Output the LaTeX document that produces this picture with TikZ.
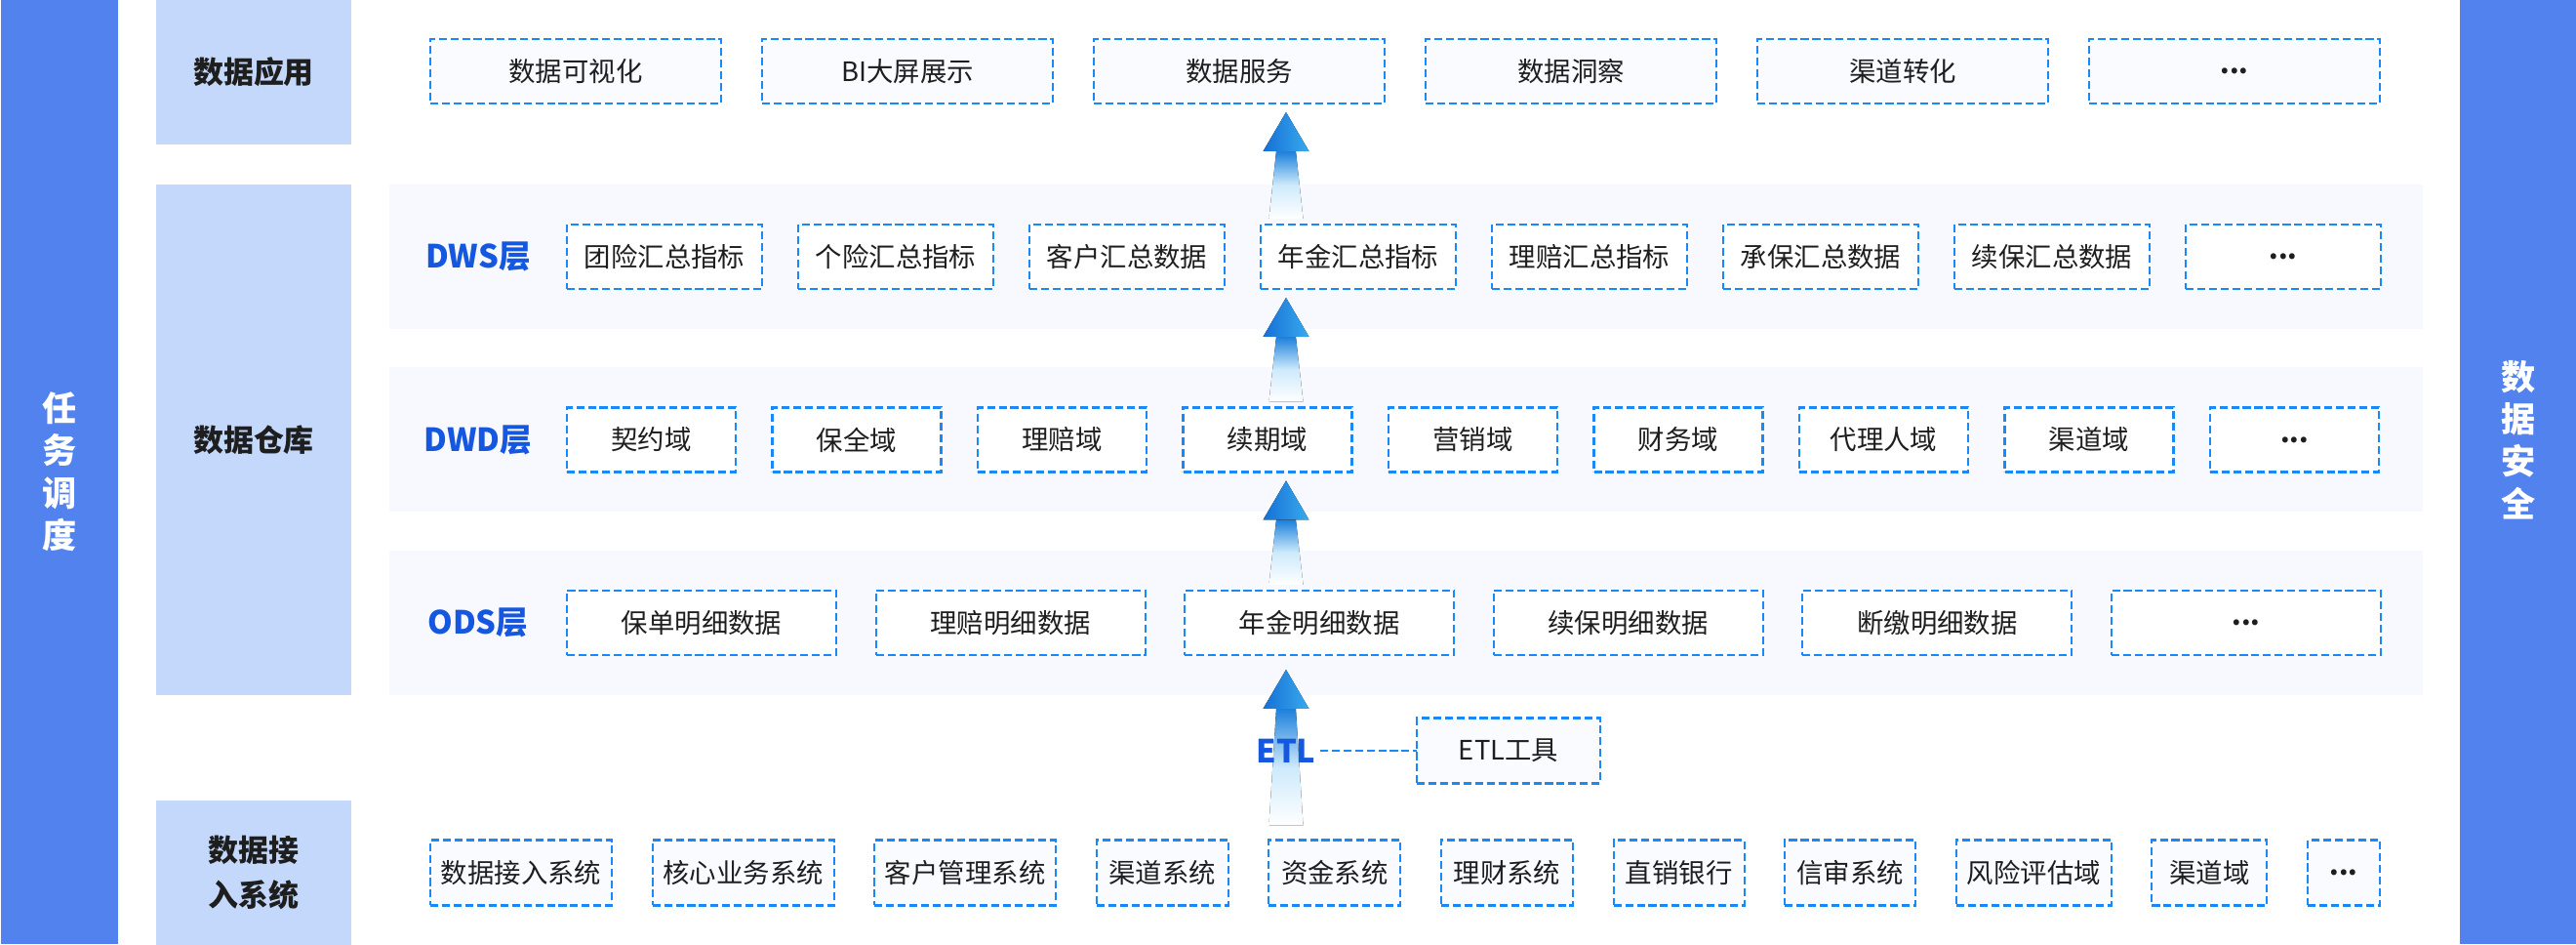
\documentclass[tikz,border=0pt]{standalone}
\usepackage{fontspec}
\setmainfont{Noto Sans CJK SC}
\usepackage{xcolor}
\usepackage{tikz}
\usetikzlibrary{positioning,calc}

\definecolor{sideblue}{HTML}{5282EE}
\definecolor{labelblue}{HTML}{C3D8FA}
\definecolor{bandgray}{HTML}{F7F9FE}
\definecolor{dashblue}{HTML}{1A88F5}
\definecolor{layerblue}{HTML}{1558DF}
\definecolor{boxfill}{HTML}{F9FBFF}
\definecolor{textgray}{HTML}{1E1E1E}
\definecolor{flowtop}{HTML}{1C80DC}
\definecolor{flowdark}{HTML}{1670D6}
\definecolor{flowlight}{HTML}{38AAEE}

% gradient up-arrow: #1 = tip, #2 = foot of the shaft
\newcommand{\flowup}[2]{%
  \fill[flowshaft] ($(#1)+(-0.10,-0.40)$) -- ($(#1)+(0.10,-0.40)$) -- ($(#2)+(0.175,0)$) -- ($(#2)+(-0.175,0)$) -- cycle;
  \fill[flowhead] (#1) -- ($(#1)+(0.235,-0.40)$) -- ($(#1)+(-0.235,-0.40)$) -- cycle;
}

\begin{document}
\begin{tikzpicture}[
                every node/.style={font=\fontsize{7.8}{9}\selectfont, text=textgray},
                side/.style={fill=sideblue, minimum width=1.2cm, minimum height=9.68cm, inner sep=0pt, anchor=south west},
                sidetext/.style={text=white, align=center, font=\bfseries\fontsize{10}{12.3}\selectfont},
                tier/.style={fill=labelblue, minimum width=2.0cm, inner sep=0pt, align=center, font=\bfseries\fontsize{8.8}{13.3}\selectfont},
                band/.style={fill=bandgray, minimum width=20.84cm, minimum height=1.48cm, inner sep=0pt},
                layertag/.style={text=layerblue, inner sep=1pt, font=\bfseries\fontsize{9.3}{11}\selectfont},
                item/.style={draw=dashblue, dash pattern=on 2.3pt off 1.1pt, line width=0.6pt, fill=boxfill, minimum height=0.66cm, inner sep=0pt, outer sep=0pt},
                more/.style={font=\bfseries\fontsize{7.8}{9}\selectfont},
                link/.style={draw=dashblue, dash pattern=on 2.3pt off 1.1pt, line width=0.6pt},
                flowshaft/.style={top color=flowtop, bottom color=white, middle color=flowlight!25!white},
                flowhead/.style={left color=flowdark, right color=flowlight}
            ]
                \useasboundingbox (0,0) rectangle (26.40,9.68);

                % side bars
                \node[side] (sched) at (0,0) {};
                \node[sidetext] at (sched.center) {任\\务\\调\\度};
                \node[side] (secbar) at (25.20,0) {};

                % tier labels on the left
                \node[tier, minimum height=1.48cm] (app) at (2.60,8.94) {数据应用};
                \node[tier, minimum height=5.23cm] (dw) at (2.60,5.175) {数据仓库};
                \node[tier, minimum height=1.48cm] (src) at (2.60,0.74) {数据接\\入系统};
                \node[sidetext] at (secbar |- dw.center) {数\\据\\安\\全};

                % warehouse bands
                \node[band] (dwsband) at (14.41,7.05) {};
                \node[band] (dwdband) at (14.41,5.175) {};
                \node[band] (odsband) at (14.41,3.30) {};
                \node[layertag] (dwsl) at (4.90,7.05) {DWS层};
                \node[layertag] (dwdl) at (4.90,5.175) {DWD层};
                \node[layertag] (odsl) at (4.90,3.30) {ODS层};

                % data applications
                \node[item, minimum width=2.98cm, anchor=west] (app1) at (4.41,8.95) {数据可视化};
                \node[item, minimum width=2.98cm, right=0.42cm of app1] (app2) {BI大屏展示};
                \node[item, minimum width=2.98cm, right=0.42cm of app2] (app3) {数据服务};
                \node[item, minimum width=2.98cm, right=0.42cm of app3] (app4) {数据洞察};
                \node[item, minimum width=2.98cm, right=0.42cm of app4] (app5) {渠道转化};
                \node[item, more, minimum width=2.98cm, right=0.42cm of app5] (app6) {...};

                % DWS
                \node[item, fill=white, minimum width=2.00cm, anchor=west] (dws1) at (5.81,7.05) {团险汇总指标};
                \node[item, fill=white, minimum width=2.00cm, right=0.37cm of dws1] (dws2) {个险汇总指标};
                \node[item, fill=white, minimum width=2.00cm, right=0.37cm of dws2] (dws3) {客户汇总数据};
                \node[item, fill=white, minimum width=2.00cm, right=0.37cm of dws3] (dws4) {年金汇总指标};
                \node[item, fill=white, minimum width=2.00cm, right=0.37cm of dws4] (dws5) {理赔汇总指标};
                \node[item, fill=white, minimum width=2.00cm, right=0.37cm of dws5] (dws6) {承保汇总数据};
                \node[item, fill=white, minimum width=2.00cm, right=0.37cm of dws6] (dws7) {续保汇总数据};
                \node[item, more, fill=white, minimum width=2.00cm, right=0.37cm of dws7] (dws8) {...};

                % DWD
                \node[item, fill=white, minimum width=1.73cm, anchor=west] (dwd1) at (5.81,5.175) {契约域};
                \node[item, fill=white, minimum width=1.73cm, right=0.375cm of dwd1] (dwd2) {保全域};
                \node[item, fill=white, minimum width=1.73cm, right=0.375cm of dwd2] (dwd3) {理赔域};
                \node[item, fill=white, minimum width=1.73cm, right=0.375cm of dwd3] (dwd4) {续期域};
                \node[item, fill=white, minimum width=1.73cm, right=0.375cm of dwd4] (dwd5) {营销域};
                \node[item, fill=white, minimum width=1.73cm, right=0.375cm of dwd5] (dwd6) {财务域};
                \node[item, fill=white, minimum width=1.73cm, right=0.375cm of dwd6] (dwd7) {代理人域};
                \node[item, fill=white, minimum width=1.73cm, right=0.375cm of dwd7] (dwd8) {渠道域};
                \node[item, more, fill=white, minimum width=1.73cm, right=0.375cm of dwd8] (dwd9) {...};

                % ODS
                \node[item, fill=white, minimum width=2.76cm, anchor=west] (ods1) at (5.81,3.30) {保单明细数据};
                \node[item, fill=white, minimum width=2.76cm, right=0.406cm of ods1] (ods2) {理赔明细数据};
                \node[item, fill=white, minimum width=2.76cm, right=0.406cm of ods2] (ods3) {年金明细数据};
                \node[item, fill=white, minimum width=2.76cm, right=0.406cm of ods3] (ods4) {续保明细数据};
                \node[item, fill=white, minimum width=2.76cm, right=0.406cm of ods4] (ods5) {断缴明细数据};
                \node[item, more, fill=white, minimum width=2.76cm, right=0.406cm of ods5] (ods6) {...};

                % source systems
                \node[item, minimum height=0.67cm, minimum width=1.86cm, anchor=west] (src1) at (4.41,0.74) {数据接入系统};
                \node[item, minimum height=0.67cm, minimum width=1.86cm, right=0.416cm of src1] (src2) {核心业务系统};
                \node[item, minimum height=0.67cm, minimum width=1.86cm, right=0.416cm of src2] (src3) {客户管理系统};
                \node[item, minimum height=0.67cm, minimum width=1.35cm, right=0.416cm of src3] (src4) {渠道系统};
                \node[item, minimum height=0.67cm, minimum width=1.35cm, right=0.416cm of src4] (src5) {资金系统};
                \node[item, minimum height=0.67cm, minimum width=1.35cm, right=0.416cm of src5] (src6) {理财系统};
                \node[item, minimum height=0.67cm, minimum width=1.34cm, right=0.416cm of src6] (src7) {直销银行};
                \node[item, minimum height=0.67cm, minimum width=1.34cm, right=0.416cm of src7] (src8) {信审系统};
                \node[item, minimum height=0.67cm, minimum width=1.59cm, right=0.416cm of src8] (src9) {风险评估域};
                \node[item, minimum height=0.67cm, minimum width=1.18cm, right=0.416cm of src9] (src10) {渠道域};
                \node[item, more, minimum height=0.67cm, minimum width=0.74cm, right=0.416cm of src10] (src11) {...};

                % flow arrows between the layers
                \coordinate (flow) at (13.18,0);
                \coordinate (tip1) at ($(flow |- app3.south)+(0,-0.09)$);
                \coordinate (foot1) at ($(flow |- dws4.north)+(0,0.06)$);
                \coordinate (tip2) at ($(flow |- dws4.south)+(0,-0.09)$);
                \coordinate (foot2) at ($(flow |- dwd4.north)+(0,0.06)$);
                \coordinate (tip3) at ($(flow |- dwd4.south)+(0,-0.09)$);
                \coordinate (foot3) at ($(flow |- ods3.north)+(0,0.06)$);
                \coordinate (tip4) at ($(flow |- ods3.south)+(0,-0.15)$);
                \coordinate (foot4) at ($(flow |- src5.north)+(0,0.15)$);
                \flowup{tip1}{foot1}
                \flowup{tip2}{foot2}
                \flowup{tip3}{foot3}
                \flowup{tip4}{foot4}

                % ETL
                \node[layertag] (etl) at (13.18,1.99) {ETL};
                \node[item, minimum height=0.67cm, minimum width=1.88cm, anchor=west] (etltool) at (14.52,1.99) {ETL工具};
                \draw[link] (etl.east) -- (etltool.west);

            \end{tikzpicture}
\end{document}
